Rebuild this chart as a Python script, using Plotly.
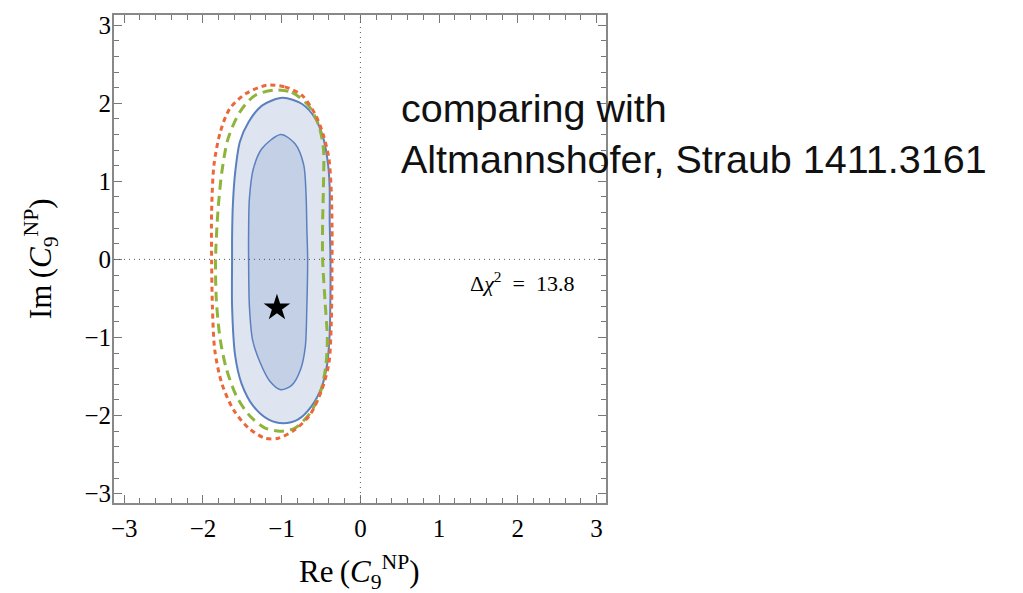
import plotly.graph_objects as go

# Contour boundaries in the (Re C9, Im C9) plane, traced clockwise from the top
outer_x = [-0.99, -0.74, -0.57, -0.47, -0.41, -0.39, -0.39, -0.38, -0.38, -0.39, -0.42, -0.49, -0.62, -0.79,
           -0.98, -1.17, -1.36, -1.51, -1.59, -1.63, -1.63, -1.63, -1.62, -1.59, -1.53, -1.42, -1.25]
outer_y = [2.07, 1.99, 1.80, 1.55, 1.21, 0.91, 0.48, 0.0, -0.39, -0.95, -1.33, -1.63, -1.88, -2.05,
           -2.10, -2.05, -1.88, -1.59, -1.24, -0.60, 0.0, 0.27, 0.70, 1.12, 1.51, 1.76, 1.97]

inner_x = [-1.01, -0.83, -0.72, -0.69, -0.68, -0.67, -0.68, -0.70, -0.76, -0.87,
           -1.01, -1.15, -1.27, -1.37, -1.41, -1.42, -1.42, -1.41, -1.36, -1.25]
inner_y = [1.60, 1.48, 1.21, 0.82, 0.40, 0.0, -0.60, -1.12, -1.41, -1.61,
           -1.67, -1.56, -1.33, -1.03, -0.60, 0.0, 0.35, 0.78, 1.16, 1.42]

# Altmannshofer-Straub contours
as_green_x = [-1.08, -0.87, -0.66, -0.53, -0.47, -0.47, -0.48, -0.48, -0.45, -0.42, -0.44, -0.51, -0.64, -0.83,
              -1.02, -1.21, -1.40, -1.57, -1.70, -1.78, -1.83, -1.84, -1.81, -1.76, -1.68, -1.53, -1.34]
as_green_y = [2.17, 2.14, 1.97, 1.72, 1.42, 0.91, 0.48, 0.0, -0.52, -1.03, -1.37, -1.71, -1.97, -2.16,
              -2.20, -2.16, -2.01, -1.76, -1.41, -1.03, -0.52, 0.0, 0.61, 1.12, 1.55, 1.89, 2.10]

as_orange_x = [-1.19, -0.96, -0.74, -0.57, -0.47, -0.40, -0.37, -0.36, -0.36, -0.37, -0.40, -0.49, -0.64, -0.83,
               -1.04, -1.21, -1.42, -1.61, -1.76, -1.85, -1.88, -1.89, -1.89, -1.86, -1.78, -1.66, -1.46]
as_orange_y = [2.23, 2.21, 2.10, 1.85, 1.59, 1.29, 0.87, 0.40, 0.0, -0.82, -1.33, -1.67, -1.99, -2.18,
               -2.29, -2.29, -2.16, -1.93, -1.59, -1.16, -0.60, 0.0, 0.61, 1.21, 1.63, 1.93, 2.12]

# Best-fit point
best_x = [-1.06]
best_y = [-0.62]

delta_chi2 = 13.8
tick_vals = [-3, -2, -1, 0, 1, 2, 3]


def closed(xs, ys):
    return xs + xs[:1], ys + ys[:1]


BLUE_LINE = "#5b80bf"
SERIF = "Liberation Serif, Times New Roman, serif"

fig = go.Figure()

ox, oy = closed(outer_x, outer_y)
fig.add_trace(go.Scatter(x=ox, y=oy, mode="lines", fill="toself", fillcolor="#dee4f0",
                         line=dict(color=BLUE_LINE, width=2, shape="spline", smoothing=0.8),
                         hoverinfo="skip"))
ix, iy = closed(inner_x, inner_y)
fig.add_trace(go.Scatter(x=ix, y=iy, mode="lines", fill="toself", fillcolor="#c4d0e5",
                         line=dict(color=BLUE_LINE, width=1.5, shape="spline", smoothing=0.8),
                         hoverinfo="skip"))
gx, gy = closed(as_green_x, as_green_y)
fig.add_trace(go.Scatter(x=gx, y=gy, mode="lines",
                         line=dict(color="#8fb43c", width=3, dash="10px,6px", shape="spline", smoothing=0.8),
                         hoverinfo="skip"))
rx, ry = closed(as_orange_x, as_orange_y)
fig.add_trace(go.Scatter(x=rx, y=ry, mode="lines",
                         line=dict(color="#ec673a", width=3, dash="5px,4px", shape="spline", smoothing=0.8),
                         hoverinfo="skip"))
fig.add_trace(go.Scatter(x=best_x, y=best_y, mode="markers",
                         marker=dict(symbol="star", size=20, color="black", line=dict(width=0)),
                         hoverinfo="skip"))

# dotted reference lines through the origin
fig.add_vline(x=0, line=dict(color="#555555", width=1, dash="1px,4px"), layer="above")
fig.add_hline(y=0, line=dict(color="#555555", width=1, dash="1px,4px"), layer="above")

axis_common = dict(
    tickvals=tick_vals,
    ticks="inside", ticklen=8, tickwidth=1, tickcolor="#777777",
    minor=dict(dtick=0.2, ticks="inside", ticklen=5, tickwidth=1, tickcolor="#777777", showgrid=False),
    showline=True, linecolor="#888888", linewidth=1.8, mirror="allticks",
    showgrid=False, zeroline=False,
    tickfont=dict(family=SERIF, size=25, color="black"),
)

fig.update_layout(
    width=1023, height=593,
    margin=dict(l=114, r=417, t=13, b=90),
    paper_bgcolor="white", plot_bgcolor="white",
    showlegend=False,
    xaxis=dict(range=[-3.13, 3.12], ticklabelstandoff=2, **axis_common),
    yaxis=dict(range=[-3.12, 3.13], ticklabelstandoff=-4, **axis_common),
    annotations=[
        dict(text="Re\u2009(<i>C</i><sub>9</sub><sup>NP</sup>)", xref="paper", yref="paper",
             x=(359 - 114) / 492, y=-(572 - 503) / 490, xanchor="center", yanchor="middle",
             showarrow=False, font=dict(family=SERIF, size=31, color="black")),
        dict(text="Im\u2009(<i>C</i><sub>9</sub><sup>NP</sup>)", xref="paper", yref="paper",
             x=-(114 - 41) / 492, y=0.5, xanchor="center", yanchor="middle", textangle=-90,
             showarrow=False, font=dict(family=SERIF, size=31, color="black")),
        dict(text="Δ<i>χ</i><sup>2</sup>\u2002=\u2002" + "%.1f" % delta_chi2,
             xref="x", yref="y", x=2.05, y=-0.29, xanchor="center", yanchor="middle",
             showarrow=False, font=dict(family=SERIF, size=22, color="black")),
        dict(text="comparing with<br>Altmannshofer, Straub 1411.3161", xref="paper", yref="paper",
             x=(399 - 114) / 492, y=1 - (132 - 13) / 490, xanchor="left", yanchor="middle", align="left",
             showarrow=False, font=dict(family="Liberation Sans, Arial, sans-serif", size=39.5, color="#111111")),
    ],
)

fig.write_html("out.html")
